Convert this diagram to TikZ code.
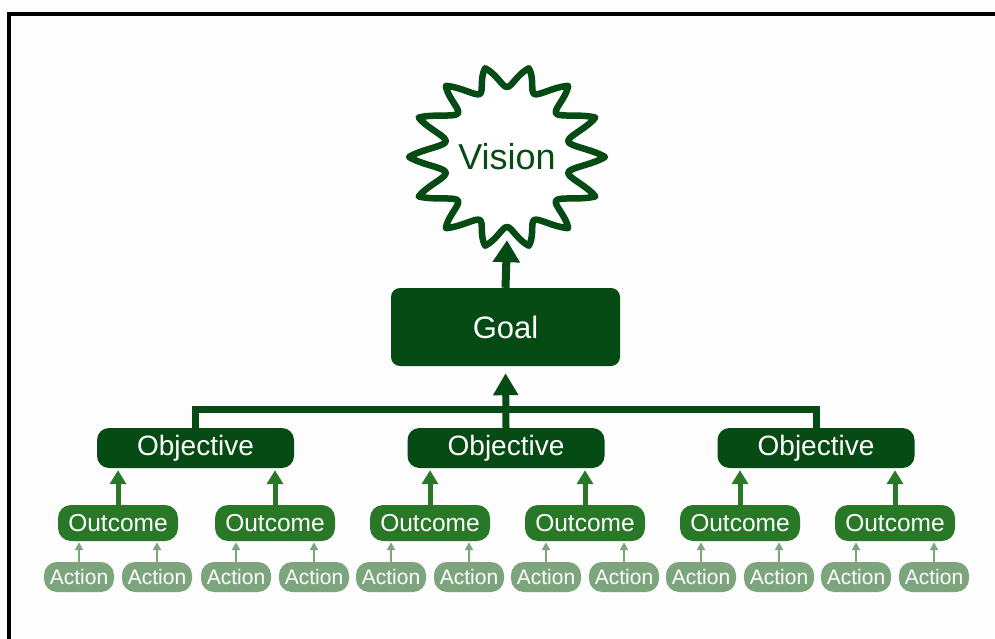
\documentclass[tikz,border=0pt]{standalone}
\usepackage{fontspec}
\setmainfont{Liberation Sans}
\usetikzlibrary{arrows.meta}
\definecolor{dkg}{RGB}{6,74,20}
\definecolor{mdg}{RGB}{40,120,40}
\definecolor{ltg}{RGB}{125,165,125}
\definecolor{bg}{RGB}{253,253,253}
\begin{document}
\begin{tikzpicture}[x=1pt,y=-1pt,
  declare function={sbF(\t)=1 - 0.6*abs(sin(7*\t)) - 0.4*sin(7*\t)*sin(7*\t);},
  goalbox/.style={fill=dkg, text=white, rounded corners=9pt, minimum width=229pt, minimum height=78pt, inner sep=0pt, font=\fontsize{31}{33}\selectfont},
  objbox/.style={fill=dkg, text=white, rounded corners=12pt, minimum width=197pt, minimum height=40pt, inner sep=0pt, font=\fontsize{28}{30}\selectfont},
  outbox/.style={fill=mdg, text=white, rounded corners=13pt, minimum width=120pt, minimum height=36pt, inner sep=0pt, font=\fontsize{24.5}{26}\selectfont},
  actbox/.style={fill=ltg, text=white, rounded corners=13pt, minimum width=70pt, minimum height=30pt, inner sep=0pt, font=\fontsize{21}{23}\selectfont},
  visnode/.style={text=dkg, minimum width=150pt, minimum height=166pt, inner sep=0pt, font=\fontsize{36}{38}\selectfont},
  bigarrow/.style={dkg, line width=8pt, -{Triangle[width=26pt,length=22pt]}},
  objarrow/.style={dkg, line width=7pt, -{Triangle[width=24pt,length=22pt]}},
  outarrow/.style={mdg, line width=5pt, -{Triangle[width=16pt,length=14pt]}},
  actarrow/.style={ltg, line width=2pt, -{Triangle[width=8pt,length=8pt]}}
]
\useasboundingbox (0,0) rectangle (995,639);
\fill[bg] (0,0) rectangle (995,639);
\draw[line width=4pt] (9.2,639) -- (9.2,14) -- (995,14);

% starburst
\draw[dkg, line width=6.5pt, fill=white, line join=round]
  plot[domain=0:360, samples=841] ({507 + (63 + 35*sbF(\x))*cos(\x)}, {157 + (70 + 21*sbF(\x))*sin(\x)}) -- cycle;
\node[visnode] (vision) at (507,157) {Vision};

\node[goalbox] (goal) at (505.5,327) {Goal};

\node[objbox] (objL) at (195.5,448) {Objective};
\node[objbox] (objM) at (506,448) {Objective};
\node[objbox] (objR) at (816,448) {Objective};

\foreach \i/\x in {1/118,2/275,3/430,4/585,5/740,6/895}{
  \node[outbox] (out\i) at (\x,523) {Outcome};
  \node[actbox] (act\i a) at (\x-39,577) {Action};
  \node[actbox] (act\i b) at (\x+39,577) {Action};
  \draw[actarrow, shorten >=1pt] (act\i a.north) -- (act\i a.north |- out\i.south);
  \draw[actarrow, shorten >=1pt] (act\i b.north) -- (act\i b.north |- out\i.south);
}

\draw[bigarrow] (goal.north) -- (vision.south);
\draw[objarrow, shorten >=7pt] (objM.north) -- (goal.south);
\draw[dkg, line width=7pt] (objL.north) -- ++(0,-18) -| (objR.north);

\draw[outarrow, shorten >=2pt] (out1.north) -- (out1.north |- objL.south);
\draw[outarrow, shorten >=2pt] (out2.north) -- (out2.north |- objL.south);
\draw[outarrow, shorten >=2pt] (out3.north) -- (out3.north |- objM.south);
\draw[outarrow, shorten >=2pt] (out4.north) -- (out4.north |- objM.south);
\draw[outarrow, shorten >=2pt] (out5.north) -- (out5.north |- objR.south);
\draw[outarrow, shorten >=2pt] (out6.north) -- (out6.north |- objR.south);
\end{tikzpicture}
\end{document}
